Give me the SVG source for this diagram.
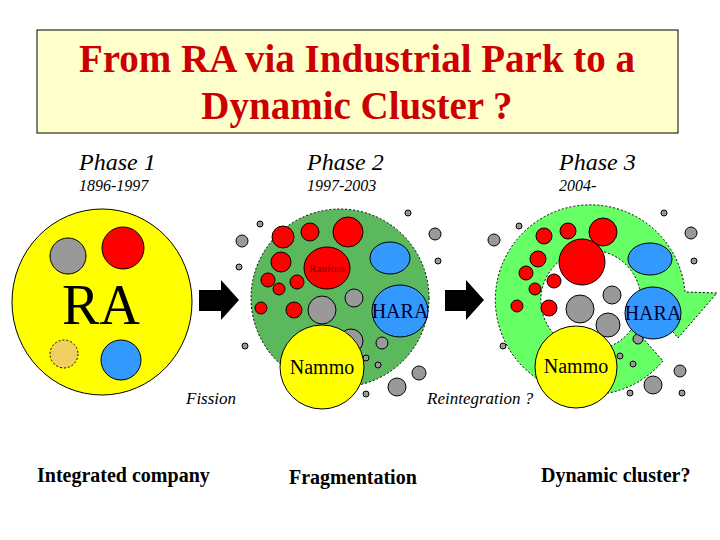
<svg xmlns="http://www.w3.org/2000/svg" width="720" height="540" viewBox="0 0 720 540">
<style>
.s{stroke:#000;stroke-width:1}
.r{fill:#f00}.g{fill:#999}.b{fill:#39f}.y{fill:#ff0}
.ph{font-family:'Liberation Serif',serif;font-style:italic;font-size:24px}
.yr{font-family:'Liberation Serif',serif;font-style:italic;font-size:16px}
.lb{font-family:'Liberation Serif',serif;font-style:italic;font-size:17px}
.bt{font-family:'Liberation Serif',serif;font-weight:bold;font-size:20px}
.nm{font-family:'Liberation Serif',serif;font-size:20px}
</style>
<rect width="720" height="540" fill="#fff"/>
<g id="title">
<rect x="37" y="30" width="641" height="103" fill="#ffffcc" stroke="#000"/>
<text x="357" y="72" text-anchor="middle" font-family="'Liberation Serif',serif" font-weight="bold" font-size="39" fill="#cc0000">From RA via Industrial Park to a</text>
<text x="357" y="119" text-anchor="middle" font-family="'Liberation Serif',serif" font-weight="bold" font-size="39" fill="#cc0000">Dynamic Cluster ?</text>
</g>
<g id="labels">
<text class="ph" x="79" y="170">Phase 1</text><text class="ph" x="307" y="170">Phase 2</text><text class="ph" x="559" y="170">Phase 3</text>
<text class="yr" x="79" y="191">1896-1997</text><text class="yr" x="307" y="191">1997-2003</text><text class="yr" x="559" y="191">2004-</text>
<text class="lb" x="186" y="404">Fission</text><text class="lb" x="427" y="404">Reintegration ?</text>
<text class="bt" x="37" y="482">Integrated company</text><text class="bt" x="289" y="484">Fragmentation</text><text class="bt" x="541" y="482">Dynamic cluster?</text>
</g>
<g id="phase1">
<ellipse class="s y" cx="102" cy="302" rx="90" ry="93"/>
<circle class="s g" cx="68" cy="256" r="18"/><circle class="s r" cx="123" cy="248" r="21"/>
<circle cx="64" cy="354" r="14" fill="#f0d060" stroke="#000" stroke-dasharray="2 2"/>
<circle class="s b" cx="121" cy="360" r="20"/>
<text x="101" y="324" text-anchor="middle" font-family="'Liberation Serif',serif" font-size="56">RA</text>
</g>
<g id="arrows">
<path d="M199 290H221V280L239 300L221 320V311H199Z"/>
<path d="M445 290H466V280L484 300L466 320V311H445Z"/>
</g>
<g id="phase2">
<circle cx="340" cy="298" r="89" fill="#5cb85c" stroke="#000" stroke-dasharray="2 2"/>
<circle class="s r" cx="283" cy="237" r="11"/><circle class="s r" cx="310" cy="232" r="9"/><circle class="s r" cx="348" cy="232" r="15"/>
<circle class="s r" cx="281" cy="262" r="10"/><ellipse class="s r" cx="327" cy="268" rx="23" ry="21"/>
<circle class="s r" cx="268" cy="280" r="7"/><circle class="s r" cx="297" cy="282" r="7"/><circle class="s r" cx="279" cy="289" r="6"/>
<circle class="s r" cx="261" cy="308" r="6"/><circle class="s r" cx="294" cy="310" r="8"/>
<circle class="s g" cx="322" cy="310" r="14"/><circle class="s g" cx="354" cy="298" r="9"/><circle class="s g" cx="351" cy="341" r="12"/><circle class="s g" cx="382" cy="343" r="6"/>
<ellipse class="s b" cx="390" cy="258" rx="20" ry="16"/><ellipse class="s b" cx="400" cy="311" rx="28" ry="26"/>
<circle class="s y" cx="322" cy="367" r="42"/>
<text x="327" y="272" text-anchor="middle" font-family="'Liberation Serif',serif" font-size="11" fill="#800">Raufoss</text>
<text class="nm" x="400" y="318" text-anchor="middle" fill="#003">HARA</text>
<text class="nm" x="322" y="374" text-anchor="middle">Nammo</text>
<circle class="s g" cx="242" cy="241" r="6"/><circle class="s g" cx="239" cy="267" r="3"/><circle class="s g" cx="260" cy="224" r="3"/>
<circle class="s g" cx="408" cy="213" r="3"/><circle class="s g" cx="435" cy="234" r="6"/><circle class="s g" cx="438" cy="261" r="3"/>
<circle class="s g" cx="245" cy="346" r="3"/><circle class="s g" cx="366" cy="358" r="3"/><circle class="s g" cx="378" cy="365" r="3"/>
<circle class="s g" cx="419" cy="373" r="7"/><circle class="s g" cx="397" cy="387" r="9"/><circle class="s g" cx="366" cy="394" r="3"/>
</g>
<g id="phase3">
<path d="M663,361 A95 95 0 1 1 685,292 L717,293 L678,338 L640,291 A50 50 0 1 0 633,327 Z" fill="#66ff66" stroke="#000" stroke-dasharray="2 2"/>
<circle class="s r" cx="544" cy="236" r="8"/><circle class="s r" cx="568" cy="231" r="8"/><circle class="s r" cx="603" cy="232" r="14"/>
<circle class="s r" cx="538" cy="259" r="8"/><circle class="s r" cx="582" cy="262" r="23"/>
<circle class="s r" cx="526" cy="273" r="7"/><circle class="s r" cx="554" cy="281" r="7"/><circle class="s r" cx="535" cy="289" r="6"/>
<circle class="s r" cx="517" cy="306" r="6"/><circle class="s r" cx="549" cy="308" r="8"/>
<circle class="s g" cx="580" cy="309" r="14"/><circle class="s g" cx="612" cy="295" r="9"/><circle class="s g" cx="608" cy="325" r="12"/><circle class="s g" cx="638" cy="339" r="5"/>
<ellipse class="s b" cx="650" cy="259" rx="22" ry="16"/><ellipse class="s b" cx="653" cy="313" rx="28" ry="26"/>
<circle class="s y" cx="576" cy="367" r="41"/>
<text class="nm" x="653" y="320" text-anchor="middle" fill="#003">HARA</text>
<text class="nm" x="576" y="373" text-anchor="middle">Nammo</text>
<circle class="s g" cx="494" cy="240" r="6"/><circle class="s g" cx="519" cy="226" r="3"/><circle class="s g" cx="664" cy="213" r="3"/>
<circle class="s g" cx="691" cy="233" r="6"/><circle class="s g" cx="694" cy="261" r="3"/><circle class="s g" cx="503" cy="346" r="3"/>
<circle class="s g" cx="620" cy="356" r="3"/><circle class="s g" cx="633" cy="364" r="3"/><circle class="s g" cx="680" cy="371" r="6"/>
<circle class="s g" cx="653" cy="385" r="9"/><circle class="s g" cx="630" cy="393" r="3"/><circle class="s g" cx="682" cy="393" r="3"/>
</g>
</svg>
